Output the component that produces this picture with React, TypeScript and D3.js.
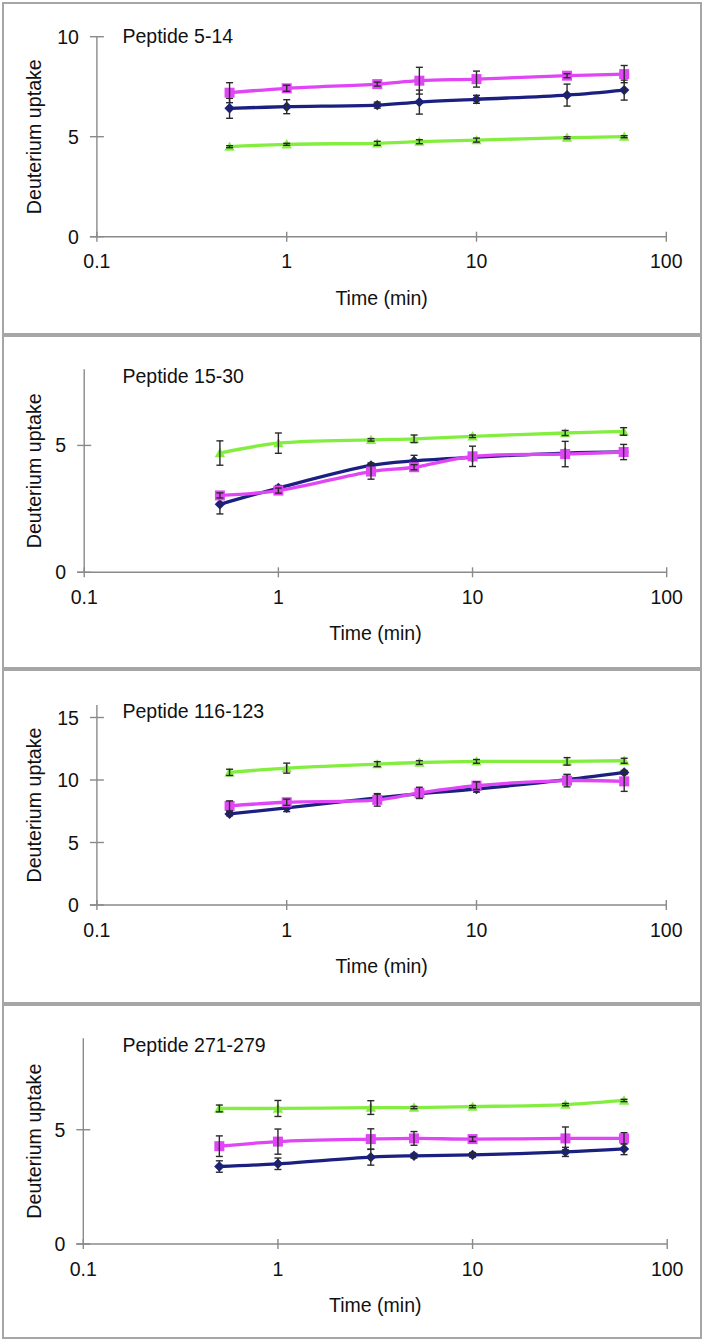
import React from "react";
import * as d3 from "d3";

// ---------- DATA ----------
const times = [0.5, 1, 3, 5, 10, 30, 60];
const xTickValues = [0.1, 1, 10, 100];
const xTickLabels = ["0.1", "1", "10", "100"];
const titles = ["Peptide 5-14", "Peptide 15-30", "Peptide 116-123", "Peptide 271-279"];
const yMaxes = [10, 8, 16, 9];
const yTicks1 = [0, 5, 10];
const yTicks2 = [0, 5];
const yTicks3 = [0, 5, 10, 15];
const yTicks4 = [0, 5];

// Panel 1 (Peptide 5-14)
const p1Blue = [6.42, 6.5, 6.58, 6.73, 6.87, 7.08, 7.33];
const p1BlueErr = [0.5, 0.35, 0.15, 0.6, 0.2, 0.55, 0.5];
const p1Magenta = [7.2, 7.42, 7.63, 7.8, 7.88, 8.05, 8.13];
const p1MagentaErr = [0.5, 0.15, 0.1, 0.67, 0.4, 0.1, 0.43];
const p1Green = [4.5, 4.62, 4.67, 4.75, 4.83, 4.95, 5.0];
const p1GreenErr = [0.05, 0.05, 0.1, 0.1, 0.1, 0.05, 0.05];

// Panel 2 (Peptide 15-30)
const p2Blue = [2.68, 3.32, 4.21, 4.39, 4.53, 4.7, 4.74];
const p2BlueErr = [0.38, 0.1, 0.1, 0.22, 0.1, 0.1, 0.1];
const p2Magenta = [3.03, 3.22, 3.97, 4.14, 4.57, 4.66, 4.74];
const p2MagentaErr = [0.1, 0.1, 0.3, 0.1, 0.4, 0.5, 0.3];
const p2Green = [4.7, 5.09, 5.22, 5.26, 5.36, 5.49, 5.55];
const p2GreenErr = [0.48, 0.4, 0.05, 0.15, 0.05, 0.1, 0.15];

// Panel 3 (Peptide 116-123)
const p3Blue = [7.29, 7.77, 8.57, 8.89, 9.28, 10.03, 10.61];
const p3BlueErr = [0.15, 0.3, 0.3, 0.35, 0.25, 0.4, 0.15];
const p3Magenta = [7.93, 8.22, 8.41, 8.97, 9.55, 9.95, 9.89];
const p3MagentaErr = [0.4, 0.25, 0.5, 0.45, 0.3, 0.5, 0.8];
const p3Green = [10.61, 10.95, 11.27, 11.4, 11.49, 11.49, 11.54];
const p3GreenErr = [0.25, 0.4, 0.2, 0.15, 0.15, 0.3, 0.2];

// Panel 4 (Peptide 271-279)
const p4Blue = [3.39, 3.51, 3.8, 3.86, 3.9, 4.03, 4.16];
const p4BlueErr = [0.25, 0.25, 0.35, 0.1, 0.1, 0.2, 0.25];
const p4Magenta = [4.28, 4.48, 4.59, 4.62, 4.59, 4.62, 4.62];
const p4MagentaErr = [0.45, 0.55, 0.45, 0.3, 0.1, 0.5, 0.25];
const p4Green = [5.93, 5.93, 5.97, 5.97, 6.01, 6.1, 6.28];
const p4GreenErr = [0.15, 0.35, 0.3, 0.05, 0.05, 0.05, 0.05];

// ---------- STYLE / LAYOUT ----------
const COLORS = { blue: "#1b2080", magenta: "#e046f6", green: "#84ee40" };
const FONT = "'Liberation Sans', Arial, sans-serif";
const FS = 19.5;

const layouts = [
  { top: 3, bottom: 334, left: 96.9, right: 666.3, yTop: 36.7, y0: 236.7, titleY: 43, ticks: yTicks1 },
  { top: 336, bottom: 668, left: 84.2, right: 666.7, yTop: 369.3, y0: 572.3, titleY: 382.7, ticks: yTicks2 },
  { top: 670, bottom: 1003, left: 96.9, right: 666.3, yTop: 705, y0: 905, titleY: 717.7, ticks: yTicks3 },
  { top: 1005, bottom: 1338, left: 83.3, right: 667.2, yTop: 1038.3, y0: 1244, titleY: 1051.7, ticks: yTicks4 },
];

const panelSeries = [
  [[p1Green, p1GreenErr, "green"], [p1Blue, p1BlueErr, "blue"], [p1Magenta, p1MagentaErr, "magenta"]],
  [[p2Green, p2GreenErr, "green"], [p2Blue, p2BlueErr, "blue"], [p2Magenta, p2MagentaErr, "magenta"]],
  [[p3Green, p3GreenErr, "green"], [p3Blue, p3BlueErr, "blue"], [p3Magenta, p3MagentaErr, "magenta"]],
  [[p4Green, p4GreenErr, "green"], [p4Blue, p4BlueErr, "blue"], [p4Magenta, p4MagentaErr, "magenta"]],
] as [number[], number[], "green" | "blue" | "magenta"][][];

function T({ x, y, anchor = "start", mid = false, children }: any) {
  return (
    <text x={x} y={y} dy={mid ? "0.36em" : undefined} textAnchor={anchor} fontSize={FS} fontFamily={FONT} fill="#111">
      {children}
    </text>
  );
}

function Marker({ kind, x, y }: { kind: string; x: number; y: number }) {
  const c = (COLORS as any)[kind];
  if (kind === "magenta") {
    return <rect x={x - 5} y={y - 5} width={10} height={10} fill={c} />;
  }
  if (kind === "blue") {
    const s = 5.2;
    return <path d={`M${x},${y - s}L${x + s},${y}L${x},${y + s}L${x - s},${y}Z`} fill={c} />;
  }
  const s = 5.2;
  return <path d={`M${x},${y - s}L${x + s},${y + s * 0.8}L${x - s},${y + s * 0.8}Z`} fill={c} />;
}

function Panel({ idx }: { idx: number }) {
  const L = layouts[idx];
  const x = d3.scaleLog().domain([0.1, 100]).range([L.left, L.right]);
  const y = d3.scaleLinear().domain([0, yMaxes[idx]]).range([L.y0, L.yTop]);
  const line = d3
    .line<number>()
    .x((_, i) => x(times[i]))
    .y((v) => y(v))
    .curve(d3.curveCatmullRom.alpha(0.5));
  const axisColor = "#8a8a8a";
  return (
    <g>
      <rect x={3} y={L.top} width={698} height={L.bottom - L.top} fill="none" stroke="#a6a6a6" strokeWidth={2} />
      {/* y axis */}
      <line x1={L.left} x2={L.left} y1={L.yTop} y2={L.y0} stroke={axisColor} strokeWidth={1.4} />
      {L.ticks.map((t) => (
        <g key={t}>
          <line x1={L.left - 7} x2={L.left + 7} y1={y(t)} y2={y(t)} stroke={axisColor} strokeWidth={1.4} />
          <T x={L.left - 18} y={y(t)} anchor="end" mid>
            {t}
          </T>
        </g>
      ))}
      {/* x axis */}
      <line x1={L.left - 7} x2={L.right} y1={L.y0} y2={L.y0} stroke={axisColor} strokeWidth={1.4} />
      {xTickValues.map((t, i) => (
        <g key={t}>
          <line x1={x(t)} x2={x(t)} y1={L.y0 - 5} y2={L.y0 + 5} stroke={axisColor} strokeWidth={1.4} />
          <T x={x(t)} y={L.y0 + 24.5} anchor="middle" mid>
            {xTickLabels[i]}
          </T>
        </g>
      ))}
      <T x={(L.left + L.right) / 2} y={L.y0 + 61} anchor="middle" mid>
        Time (min)
      </T>
      <text
        transform={`translate(33.5,${(L.yTop + L.y0) / 2}) rotate(-90)`}
        dy="0.36em"
        textAnchor="middle"
        fontSize={FS}
        fontFamily={FONT}
        fill="#111"
        textLength={155}
        lengthAdjust="spacingAndGlyphs"
      >
        Deuterium uptake
      </text>
      <T x={122.5} y={L.titleY}>
        {titles[idx]}
      </T>
      {panelSeries[idx].map(([vals, errs, kind]) => (
        <g key={kind}>
          <path d={line(vals) || ""} fill="none" stroke={(COLORS as any)[kind]} strokeWidth={3.3} />
          {vals.map((v, i) => (
            <Marker key={i} kind={kind} x={x(times[i])} y={y(v)} />
          ))}
          {vals.map((v, i) => {
            const cx = x(times[i]);
            const t = y(v + errs[i]);
            const b = y(v - errs[i]);
            return (
              <g key={"e" + i} stroke="#2a2a2a" strokeWidth={1.4}>
                <line x1={cx} x2={cx} y1={t} y2={b} />
                <line x1={cx - 3.5} x2={cx + 3.5} y1={t} y2={t} />
                <line x1={cx - 3.5} x2={cx + 3.5} y1={b} y2={b} />
              </g>
            );
          })}
        </g>
      ))}
    </g>
  );
}

export default function App() {
  return (
    <svg
      width={705}
      height={1341}
      style={{ position: "absolute", left: 0, top: 0, display: "block", background: "#fff" }}
    >
      <rect width={705} height={1341} fill="#fff" />
      {[0, 1, 2, 3].map((i) => (
        <Panel key={i} idx={i} />
      ))}
    </svg>
  );
}
